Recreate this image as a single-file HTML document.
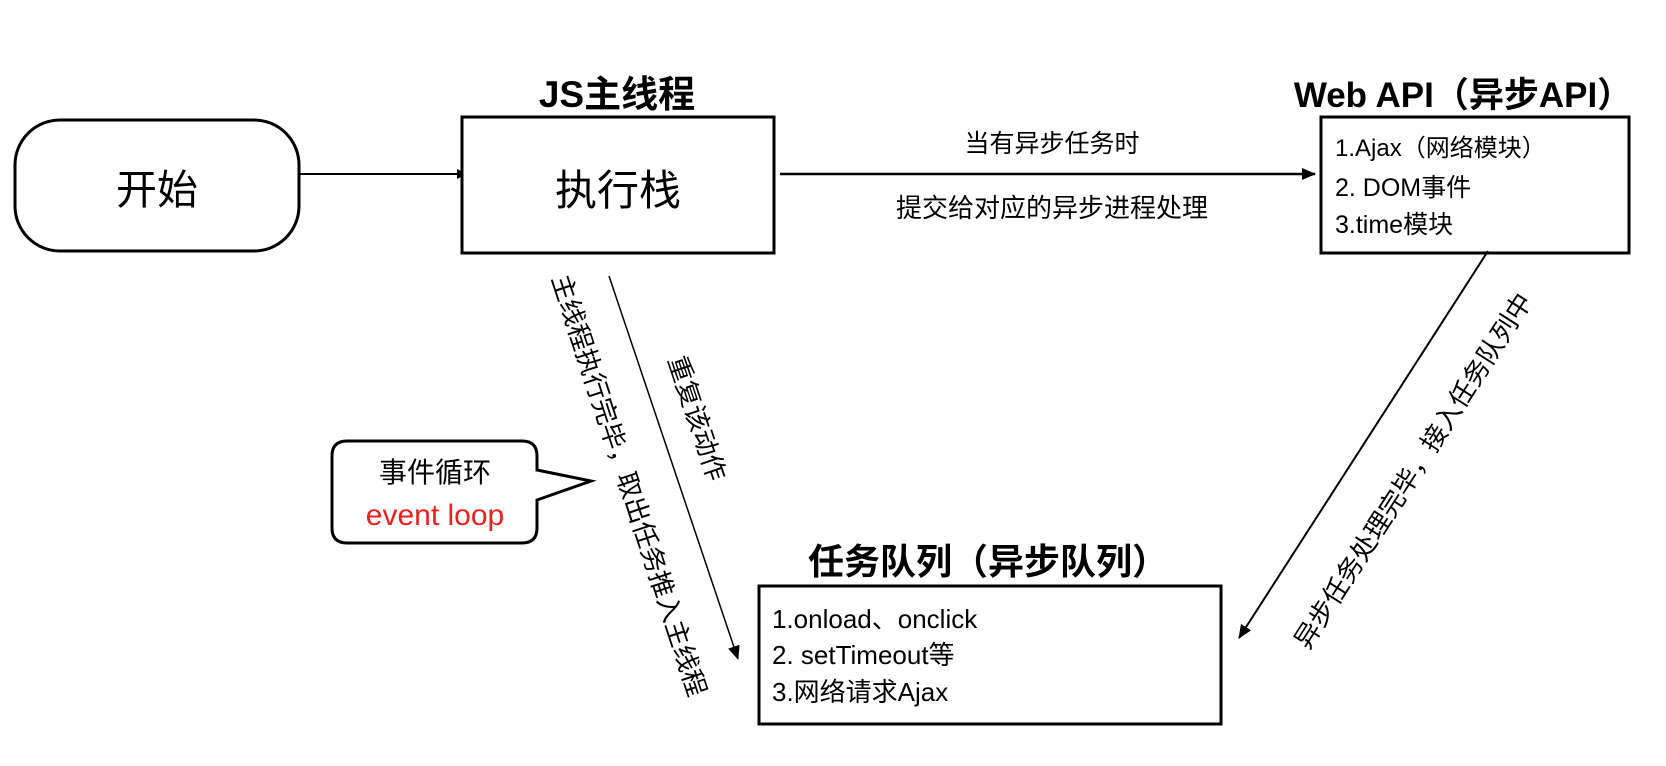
<!DOCTYPE html>
<html><head><meta charset="utf-8"><style>
html,body{margin:0;padding:0;background:#fff;}
svg{display:block;font-family:"Liberation Sans","Noto Sans CJK SC",sans-serif;}
</style></head><body>
<svg width="1666" height="766" viewBox="0 0 1666 766" xmlns="http://www.w3.org/2000/svg">
<defs>
<marker id="ah" markerWidth="10" markerHeight="10" refX="9" refY="5" orient="auto" markerUnits="userSpaceOnUse">
<path d="M0,0 L10,5 L0,10 z" fill="#000"/></marker>
<marker id="ah2" markerWidth="14" markerHeight="12" refX="13" refY="6" orient="auto" markerUnits="userSpaceOnUse">
<path d="M0,0 L14,6 L0,12 z" fill="#000"/></marker>
</defs>
<rect width="1666" height="766" fill="#fff"/>
<!-- start -->
<rect x="15" y="120" width="284" height="131" rx="45" fill="#fff" stroke="#000" stroke-width="3"/>
<text x="157" y="204" font-size="41" text-anchor="middle">开始</text>
<line x1="299" y1="174" x2="466" y2="174" stroke="#000" stroke-width="2" marker-end="url(#ah)"/>
<!-- exec stack -->
<text x="617" y="107" font-size="37" font-weight="bold" text-anchor="middle">JS主线程</text>
<rect x="462" y="117" width="312" height="136" fill="#fff" stroke="#000" stroke-width="3"/>
<text x="618" y="205" font-size="42" text-anchor="middle">执行栈</text>
<line x1="780" y1="174" x2="1315" y2="174" stroke="#000" stroke-width="2.5" marker-end="url(#ah2)"/>
<text x="1052" y="152" font-size="25" text-anchor="middle">当有异步任务时</text>
<text x="1052" y="217" font-size="26" text-anchor="middle">提交给对应的异步进程处理</text>
<!-- web api -->
<text x="1463" y="107" font-size="35" font-weight="bold" text-anchor="middle">Web API（异步API）</text>
<rect x="1321" y="117" width="308" height="136" fill="#fff" stroke="#000" stroke-width="3"/>
<text x="1335" y="156" font-size="24">1.Ajax（网络模块）</text>
<text x="1335" y="196" font-size="25">2. DOM事件</text>
<text x="1335" y="233" font-size="25">3.time模块</text>
<!-- right diagonal -->
<line x1="1488" y1="251" x2="1239" y2="638" stroke="#000" stroke-width="2" marker-end="url(#ah2)"/>
<text transform="translate(1415,472) rotate(-57.3)" font-size="26" text-anchor="middle" dominant-baseline="middle">异步任务处理完毕，接入任务队列中</text>
<!-- left diagonal -->
<line x1="609" y1="276" x2="738" y2="659" stroke="#000" stroke-width="1.5" marker-end="url(#ah2)"/>
<text transform="translate(695,419) rotate(71.4)" font-size="26" text-anchor="middle" dominant-baseline="middle">重复该动作</text>
<text transform="translate(627,486) rotate(71.8)" font-size="26" text-anchor="middle" dominant-baseline="middle">主线程执行完毕，取出任务推入主线程</text>
<!-- callout -->
<path d="M347,441 H522 Q537,441 537,456 V470 L591,481 L537,500 V528 Q537,543 522,543 H347 Q332,543 332,528 V456 Q332,441 347,441 Z" fill="#fff" stroke="#000" stroke-width="3"/>
<text x="435" y="482" font-size="28" text-anchor="middle">事件循环</text>
<text x="435" y="525" font-size="30" text-anchor="middle" fill="#e8231f">event loop</text>
<!-- task queue -->
<text x="988" y="574" font-size="36" font-weight="bold" text-anchor="middle">任务队列（异步队列）</text>
<rect x="759" y="586" width="462" height="138" fill="#fff" stroke="#000" stroke-width="3"/>
<text x="772" y="628" font-size="26">1.onload、onclick</text>
<text x="772" y="664" font-size="26">2. setTimeout等</text>
<text x="772" y="701" font-size="26">3.网络请求Ajax</text>
</svg>
</body></html>
